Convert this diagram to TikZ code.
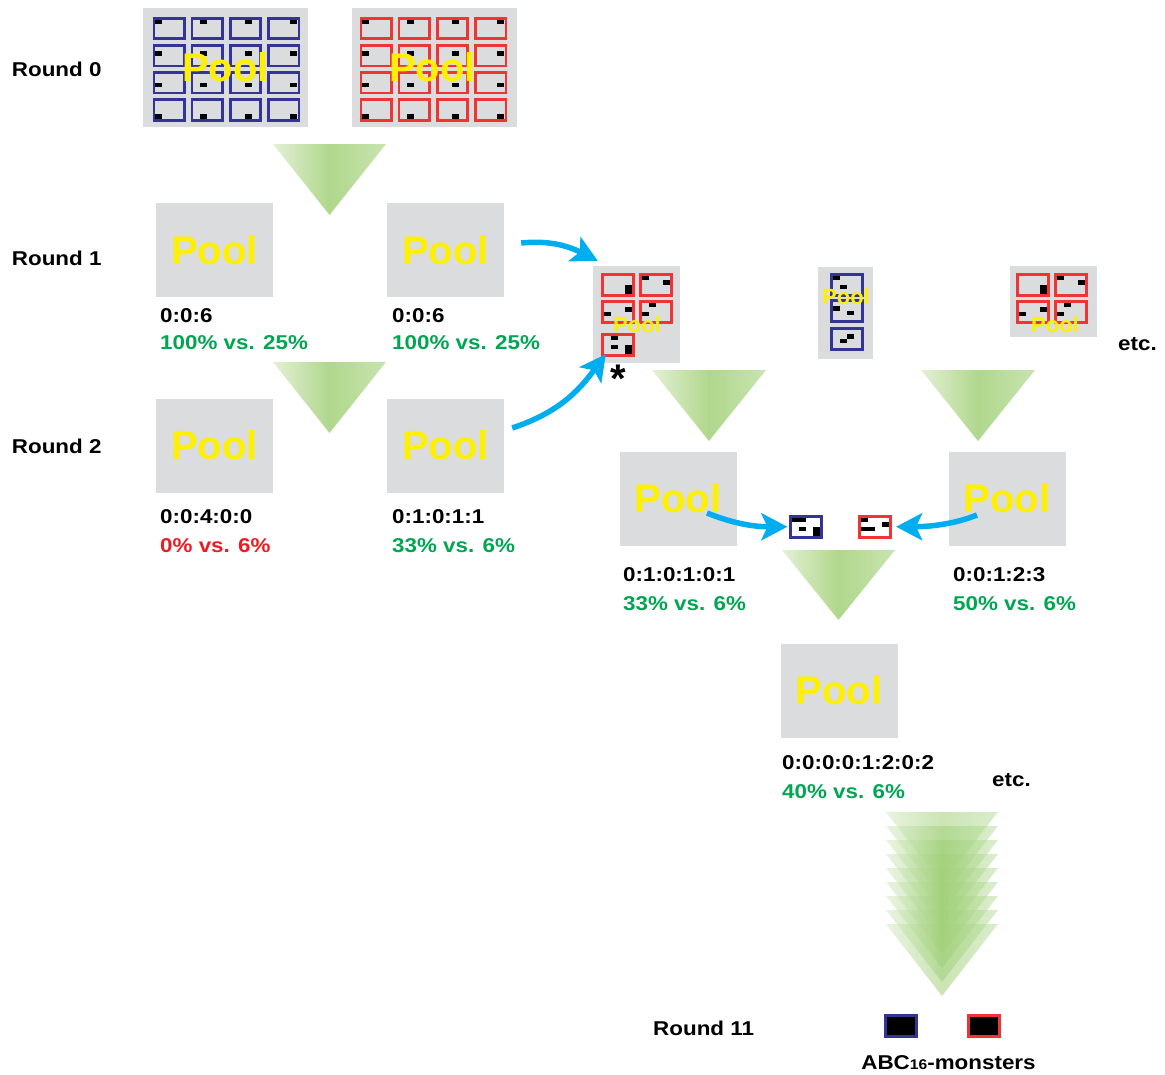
\documentclass[tikz,border=0pt]{standalone}
\usepackage{fontspec}
\setmainfont{Liberation Sans}
\newfontfamily\labfont[FakeStretch=1.12]{Liberation Sans}
\usetikzlibrary{arrows.meta}

\definecolor{poolgray}{RGB}{218,220,221}
\definecolor{poolyellow}{RGB}{255,240,0}
\definecolor{boxblue}{RGB}{52,52,150}
\definecolor{boxred}{RGB}{240,52,52}
\definecolor{okgreen}{RGB}{0,166,81}
\definecolor{badred}{RGB}{237,28,36}
\definecolor{arrowcyan}{RGB}{0,174,239}
\definecolor{trilight}{RGB}{228,240,214}
\definecolor{trimid}{RGB}{176,215,140}
\definecolor{triright}{RGB}{200,228,176}
\definecolor{stacklight}{RGB}{214,234,196}
\definecolor{stackmid}{RGB}{160,207,120}
\definecolor{stackright}{RGB}{186,222,160}

% one library member: a framed box with black marks on a 4x4 grid of cells
% #1 name, #2 x, #3 y (outer top-left), #4 frame colour, #5 marked cells col/row
\newcommand\cellbox[5]{%
  \foreach \cc/\rr in {#5}{\fill[black] ({#2+2.6+7.0*\cc},{#3+2.6+4.55*\rr}) rectangle ++(7.0,4.55);}
  \node[cellframe, draw=#4, anchor=north west] (#1) at ({#2+1.4},{#3+1.4}) {};}

% selection funnel: #2 centre x, #3 top y, #4 half width, #5 height
\newcommand\funnel[5][]{%
  \shade[left color=trilight, right color=triright, middle color=trimid, #1]
    ({#2-#4},#3) -- ({#2+#4},#3) -- (#2,{#3+#5}) -- cycle;}

\begin{document}
\begin{tikzpicture}[x=1pt,y=-1pt,
  cellframe/.style={line width=2.8pt, minimum width=30.7pt, minimum height=20.7pt,
    inner sep=0pt, outer sep=0pt},
  pool/.style={fill=poolgray, minimum width=117pt, minimum height=94pt, inner sep=0pt,
    text=poolyellow, font=\fontsize{40}{40}\selectfont\bfseries},
  bigpooltext/.style={inner sep=0pt, text=poolyellow, font=\fontsize{40}{40}\selectfont\bfseries},
  smallpool/.style={fill=poolgray, inner sep=0pt},
  smallpooltext/.style={inner sep=0pt, text=poolyellow, font=\fontsize{22}{22}\selectfont\bfseries},
  lab/.style={anchor=base west, inner sep=0pt, font=\labfont\fontsize{20}{20}\selectfont\bfseries},
  good/.style={lab, text=okgreen},
  bad/.style={lab, text=badred},
  stackshade/.style={left color=stacklight, right color=stackright, middle color=stackmid, fill opacity=0.55},
  flow/.style={draw=arrowcyan, line width=5.5pt, -{Stealth[length=26pt,width=27pt,inset=6pt]}}]

\useasboundingbox (0,0) rectangle (1165,1074);

% ---- round 0: two full libraries ----
\node[smallpool, minimum width=165pt, minimum height=119pt] (p0a) at (225.5,67.5) {};
\node[smallpool, minimum width=165pt, minimum height=119pt] (p0b) at (434.5,67.5) {};
\foreach \i in {0,...,3}{\foreach \j in {0,...,3}{%
  \cellbox{bb\i\j}{152.5+38.1*\i}{16.7+27.1*\j}{boxblue}{\i/\j}
  \cellbox{rb\i\j}{359.5+38.1*\i}{16.7+27.1*\j}{boxred}{\i/\j}}}
\node[bigpooltext] at (225.5,67.5) {Pool};
\node[bigpooltext] at (432.5,67.5) {Pool};

% ---- funnels ----
\funnel{329.5}{144}{56.5}{71}
\funnel{329.5}{362}{56.5}{71}
\funnel{709}{370}{57}{71}
\funnel{978}{370}{57}{71}
\funnel{838.5}{550}{56.5}{70}
\foreach \k in {0,...,8}{\funnel[stackshade]{942}{812+14*\k}{56}{72}}

% ---- rounds 1-4 pools ----
\node[pool] (r1a) at (214.5,250) {Pool};
\node[pool] (r1b) at (445.5,250) {Pool};
\node[pool] (r2a) at (214.5,445.5) {Pool};
\node[pool] (r2b) at (445.5,445.5) {Pool};
\node[pool] (r3a) at (678,498.5) {Pool};
\node[pool] (r3b) at (1007,498.5) {Pool};
\node[pool] (r4) at (839,690.5) {Pool};

% ---- mixed sub-libraries ----
\node[smallpool, minimum width=87pt, minimum height=97pt] (pa) at (636.5,314.5) {};
\cellbox{pa1}{601}{273}{boxred}{3/2,3/3}
\cellbox{pa2}{639}{273}{boxred}{0/0,3/1}
\cellbox{pa3}{601}{300}{boxred}{0/2,3/1}
\cellbox{pa4}{639}{300}{boxred}{1/0,0/2}
\cellbox{pa5}{601}{333}{boxred}{1/0,1/2,3/2,3/3}
\node[smallpooltext] at (637,325) {Pool};
\node[anchor=base, inner sep=0pt, font=\fontsize{40}{40}\selectfont\bfseries] (star) at (618,392) {*};

\node[smallpool, minimum width=55pt, minimum height=92pt] (pb) at (845.5,312.5) {};
\cellbox{pb1}{830}{273}{boxblue}{0/0,1/2}
\cellbox{pb2}{830}{299}{boxblue}{0/1,2/2}
\cellbox{pb3}{830}{327}{boxblue}{1/2,2/1}
\node[smallpooltext] at (846,297) {Pool};

\node[smallpool, minimum width=87pt, minimum height=71pt] (pc) at (1053.5,301.5) {};
\cellbox{pc1}{1016}{273}{boxred}{3/2,3/3}
\cellbox{pc2}{1054}{273}{boxred}{0/0,3/1}
\cellbox{pc3}{1016}{300}{boxred}{0/2,3/1}
\cellbox{pc4}{1054}{300}{boxred}{1/0,0/2}
\node[smallpooltext] at (1055,325) {Pool};

% ---- single clones picked in round 3 ----
\cellbox{sb1}{789}{515}{boxblue}{0/0,1/0,1/2,3/2,3/3}
\cellbox{sb2}{858}{515}{boxred}{0/0,0/2,1/2,3/1}

% ---- connectors ----
\draw[flow] ([shift={(17,-7)}]r1b.east) .. controls +(30,-3) and +(-28,-14) .. ([shift={(5,-5)}]pa.north west);
\draw[flow] ([shift={(8,-17.5)}]r2b.east) .. controls +(45,-15) and +(-28,38) .. ([shift={(13,-9)}]pa.south west);
\draw[flow] ([shift={(29,14.5)}]r3a.center) .. controls +(30,12) and +(-30,0) .. ([xshift=-3pt]sb1.west);
\draw[flow] ([shift={(-30,16.5)}]r3b.center) .. controls +(-25,10) and +(30,0) .. ([xshift=6pt]sb2.east);

% ---- round labels ----
\node[lab] (round0) at (11.7,76.7) {Round 0};
\node[lab] (round1) at (11.7,265) {Round 1};
\node[lab] (round2) at (11.7,453) {Round 2};
\node[lab] (round11) at (653,1035) {Round 11};

% ---- pool statistics ----
\node[lab] (s1a) at (160,322.7) {0:0:6};
\node[good] (e1a) at (160,349) {100\% vs. 25\%};
\node[lab] (s1b) at (392,322.7) {0:0:6};
\node[good] (e1b) at (392,349) {100\% vs. 25\%};
\node[lab] (s2a) at (160,523.5) {0:0:4:0:0};
\node[bad] (e2a) at (160,552.5) {0\% vs. 6\%};
\node[lab] (s2b) at (392,523.5) {0:1:0:1:1};
\node[good] (e2b) at (392,552.5) {33\% vs. 6\%};
\node[lab] (s3a) at (623,581.5) {0:1:0:1:0:1};
\node[good] (e3a) at (623,610.5) {33\% vs. 6\%};
\node[lab] (s3b) at (953,581.5) {0:0:1:2:3};
\node[good] (e3b) at (953,610.5) {50\% vs. 6\%};
\node[lab] (s4) at (782,769.5) {0:0:0:0:1:2:0:2};
\node[good] (e4) at (782,798.5) {40\% vs. 6\%};
\node[lab] (etc1) at (1118,350) {etc.};
\node[lab] (etc2) at (992,786) {etc.};

% ---- round 11 result ----
\node[cellframe, draw=boxblue, fill=black, minimum height=21.2pt, anchor=north west] (m1) at (885.4,1015.4) {};
\node[cellframe, draw=boxred, fill=black, minimum height=21.2pt, anchor=north west] (m2) at (968.4,1015.4) {};
\node[lab, anchor=base] (mon) at (948.5,1069) {ABC{\fontsize{14}{14}\selectfont 16}-monsters};
\end{tikzpicture}
\end{document}
